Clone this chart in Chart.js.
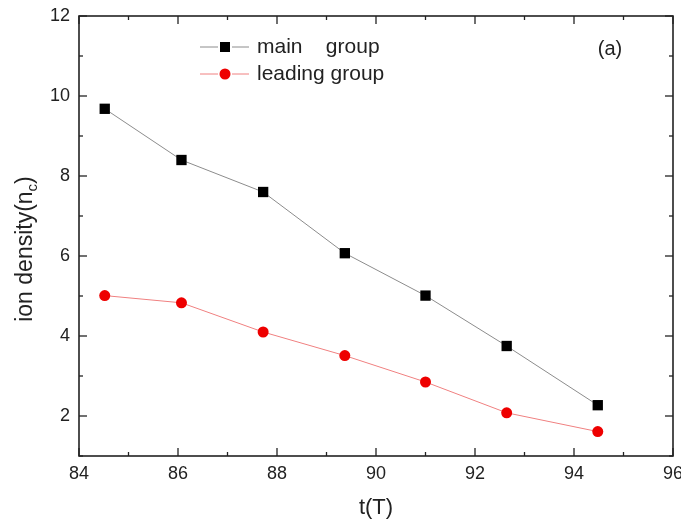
<!DOCTYPE html>
<html>
<head>
<meta charset="utf-8">
<script src="https://cdn.jsdelivr.net/npm/chart.js@4"></script>
<style>
  html, body { margin: 0; padding: 0; background: #fff; }
  #wrap { width: 681px; height: 519px; }
</style>
</head>
<body>
<div id="wrap"><canvas id="c" width="681" height="519"></canvas></div>
<script>
const timeT = [84.52, 86.07, 87.72, 89.37, 91.0, 92.64, 94.48];
const mainGroup = [9.68, 8.40, 7.60, 6.07, 5.01, 3.75, 2.27];
const leadingGroup = [5.01, 4.83, 4.10, 3.51, 2.85, 2.08, 1.61];
const xTicks = [84, 86, 88, 90, 92, 94, 96];
const xMinor = [85, 87, 89, 91, 93, 95];
const yTicks = [2, 4, 6, 8, 10, 12];
const yMinor = [1, 3, 5, 7, 9, 11];
const seriesNames = ['main    group', 'leading group'];
const xTitle = 't(T)';
const yTitleMain = 'ion density(n';
const yTitleSub = 'c';
const yTitleEnd = ')';
const panelLabel = '(a)';

const FONT = '"Liberation Sans", Arial, sans-serif';
const AX = '#222';

const decor = {
  id: 'decor',
  afterDraw(chart) {
    const ctx = chart.ctx;
    const a = chart.chartArea;
    const xs = chart.scales.x, ys = chart.scales.y;
    ctx.save();
    ctx.strokeStyle = AX;
    ctx.lineWidth = 1.6;
    ctx.strokeRect(a.left, a.top, a.right - a.left, a.bottom - a.top);
    ctx.lineWidth = 1.3;
    const tick = (x1, y1, x2, y2) => { ctx.beginPath(); ctx.moveTo(x1, y1); ctx.lineTo(x2, y2); ctx.stroke(); };
    xTicks.forEach(v => { const p = xs.getPixelForValue(v); tick(p, a.bottom, p, a.bottom - 8); tick(p, a.top, p, a.top + 8); });
    xMinor.forEach(v => { const p = xs.getPixelForValue(v); tick(p, a.bottom, p, a.bottom - 4); tick(p, a.top, p, a.top + 4); });
    yTicks.forEach(v => { const p = ys.getPixelForValue(v); tick(a.left, p, a.left + 8, p); tick(a.right, p, a.right - 8, p); });
    yMinor.forEach(v => { const p = ys.getPixelForValue(v); tick(a.left, p, a.left + 4, p); tick(a.right, p, a.right - 4, p); });

    ctx.fillStyle = AX;
    ctx.font = '22px ' + FONT;
    ctx.textAlign = 'center';
    ctx.textBaseline = 'middle';
    ctx.fillText(xTitle, (a.left + a.right) / 2, 508);

    ctx.save();
    ctx.translate(26, 249);
    ctx.rotate(-Math.PI / 2);
    const big = '23px ' + FONT, small = '15px ' + FONT;
    ctx.font = big;
    const wMain = ctx.measureText(yTitleMain).width;
    const wEnd = ctx.measureText(yTitleEnd).width;
    ctx.font = small;
    const wSub = ctx.measureText(yTitleSub).width;
    const total = wMain + wSub + wEnd;
    ctx.textAlign = 'left';
    ctx.textBaseline = 'alphabetic';
    ctx.font = big;
    ctx.fillText(yTitleMain, -total / 2, 6);
    ctx.font = small;
    ctx.fillText(yTitleSub, -total / 2 + wMain, 11);
    ctx.font = big;
    ctx.fillText(yTitleEnd, -total / 2 + wMain + wSub, 6);
    ctx.restore();

    const legendRows = [
      { name: seriesNames[0], line: '#8c8c8c', fill: '#000', shape: 'square', y: 47 },
      { name: seriesNames[1], line: '#f08080', fill: '#ee0000', shape: 'circle', y: 74 }
    ];
    legendRows.forEach(r => {
      ctx.strokeStyle = r.line;
      ctx.lineWidth = 1;
      tick(200, r.y, 218, r.y);
      tick(232, r.y, 249, r.y);
      ctx.fillStyle = r.fill;
      if (r.shape === 'square') ctx.fillRect(225 - 5, r.y - 5, 10, 10);
      else { ctx.beginPath(); ctx.arc(225, r.y, 5.5, 0, Math.PI * 2); ctx.fill(); }
      ctx.fillStyle = AX;
      ctx.font = '21px ' + FONT;
      ctx.textAlign = 'left';
      ctx.textBaseline = 'middle';
      ctx.fillText(r.name, 257, r.y);
    });

    ctx.font = '20px ' + FONT;
    ctx.textAlign = 'center';
    ctx.fillText(panelLabel, 610, 49);
    ctx.restore();
  }
};

new Chart(document.getElementById('c'), {
  type: 'line',
  data: {
    datasets: [
      {
        label: seriesNames[0],
        data: timeT.map((t, i) => ({ x: t, y: mainGroup[i] })),
        borderColor: '#8c8c8c',
        borderWidth: 1,
        pointStyle: 'rect',
        pointRadius: 7.3,
        pointBackgroundColor: '#000',
        pointBorderColor: '#000',
        pointBorderWidth: 0,
        tension: 0
      },
      {
        label: seriesNames[1],
        data: timeT.map((t, i) => ({ x: t, y: leadingGroup[i] })),
        borderColor: '#f08080',
        borderWidth: 1,
        pointStyle: 'circle',
        pointRadius: 5.5,
        pointBackgroundColor: '#ee0000',
        pointBorderColor: '#ee0000',
        pointBorderWidth: 0,
        tension: 0
      }
    ]
  },
  options: {
    responsive: false,
    animation: false,
    devicePixelRatio: 1,
    layout: { padding: { left: 0, right: 8, top: 16, bottom: 0 } },
    plugins: { legend: { display: false }, tooltip: { enabled: false } },
    scales: {
      x: {
        type: 'linear',
        min: 84, max: 96,
        grid: { display: false, drawTicks: false },
        border: { display: false },
        afterBuildTicks: s => { s.ticks = xTicks.map(v => ({ value: v })); },
        afterFit: s => { s.height = 63; s.paddingLeft = 0; s.paddingRight = 0; },
        ticks: { color: AX, font: { family: FONT, size: 18 }, padding: 7, maxRotation: 0 }
      },
      y: {
        type: 'linear',
        min: 1, max: 12,
        grid: { display: false, drawTicks: false },
        border: { display: false },
        afterBuildTicks: s => { s.ticks = yTicks.map(v => ({ value: v })); },
        afterFit: s => { s.width = 79; s.paddingTop = 0; s.paddingBottom = 0; },
        ticks: { color: AX, font: { family: FONT, size: 18 }, padding: 9 }
      }
    }
  },
  plugins: [decor]
});
</script>
</body>
</html>
